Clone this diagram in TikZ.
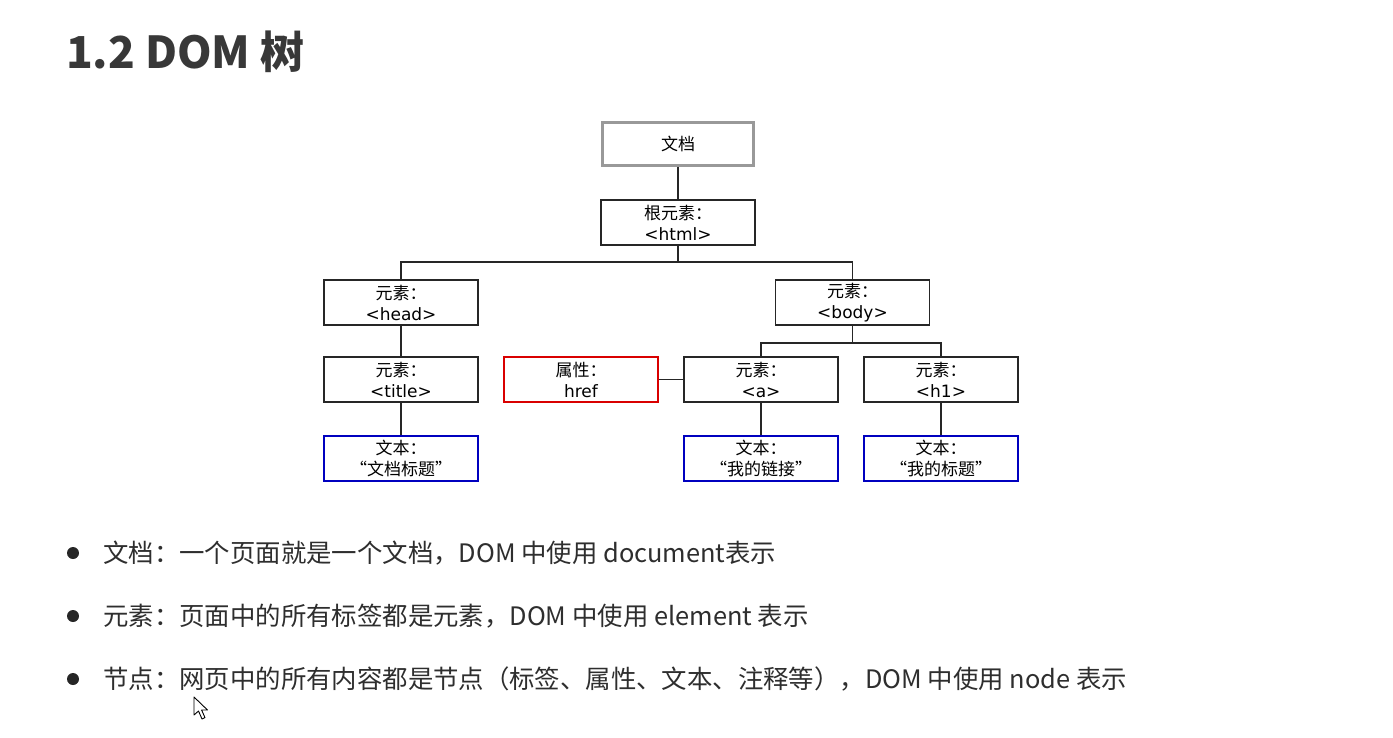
\documentclass[tikz,border=0pt]{standalone}
\usepackage{fontspec}
\setmainfont{Noto Sans CJK SC}
\newfontfamily\boxlatin{DejaVu Sans}
\begin{document}
\begin{tikzpicture}[x=1pt,y=-1pt,
  treebox/.style={draw=black!85,line width=1.7pt,fill=white,minimum width=154pt,
    minimum height=45pt,inner sep=0pt,align=center,
    font=\fontsize{17}{21}\selectfont},
  docbox/.style={treebox,draw=black!40,line width=2.6pt,minimum width=151pt,minimum height=43pt},
  attrbox/.style={treebox,draw=red!85!black},
  textbox/.style={treebox,draw=blue!75!black},
  link/.style={draw=black!85,line width=1.7pt},
  bullettext/.style={anchor=west,inner sep=0pt,text=black!82,
    font=\fontsize{25.4}{29}\selectfont},
  dot/.style={fill=black!85,draw=none}]
\useasboundingbox[fill=white] (0,0) rectangle (1393,737);

% heading
\node[anchor=west,inner sep=0pt,text=black!78,font=\fontsize{44}{50}\selectfont\bfseries]
  (heading) at (66,52) {1.2 DOM 树};

% tree nodes
\node[docbox]   (doc)   at (678,144)   {文档};
\node[treebox]  (html)  at (678,222.5) {根元素：\\{\boxlatin <html>}};
\node[treebox]  (head)  at (401,302.5) {元素：\\{\boxlatin <head>}};
\node[treebox]  (body)  at (852.5,302.5) {元素：\\{\boxlatin <body>}};
\node[treebox]  (title) at (401,379.5) {元素：\\{\boxlatin <title>}};
\node[attrbox]  (href)  at (581,379.5) {属性：\\{\boxlatin href}};
\node[treebox]  (a)     at (761,379.5) {元素：\\{\boxlatin <a>}};
\node[treebox]  (h1)    at (941,379.5) {元素：\\{\boxlatin <h1>}};
\node[textbox]  (t1)    at (401,458.5) {文本：\\“文档标题”};
\node[textbox]  (t2)    at (761,458.5) {文本：\\“我的链接”};
\node[textbox]  (t3)    at (941,458.5) {文本：\\“我的标题”};

% branch points
\coordinate (hbus) at (678,262);
\coordinate (bbus) at (852.5,343);

% connectors
\draw[link] (doc.south) -- (html.north);
\draw[link] (html.south) -- (hbus);
\draw[link] (head.north) |- (hbus) -| (body.north);
\draw[link] (head.south) -- (title.north);
\draw[link] (title.south) -- (t1.north);
\draw[link] (body.south) -- (bbus);
\draw[link] (a.north) |- (bbus) -| (h1.north);
\draw[link] (href.east) -- (a.west);
\draw[link] (a.south) -- (t2.north);
\draw[link] (h1.south) -- (t3.north);

% bullet list
\fill[dot] (73,553) circle (6);
\fill[dot] (73,616) circle (6);
\fill[dot] (73,679) circle (6);
\node[bullettext] (l1) at (103,553) {文档：一个页面就是一个文档，DOM 中使用 document表示};
\node[bullettext] (l2) at (103,616) {元素：页面中的所有标签都是元素，DOM 中使用 element 表示};
\node[bullettext] (l3) at (103,679) {节点：网页中的所有内容都是节点（标签、属性、文本、注释等），DOM 中使用 node 表示};

% mouse pointer
\draw[fill=white,line width=0.9pt,line join=round]
  (194,697) -- (194,715) -- (198.5,711) -- (202,719) -- (205,717.6) -- (201.6,710) -- (207.5,710) -- cycle;
\end{tikzpicture}
\end{document}
